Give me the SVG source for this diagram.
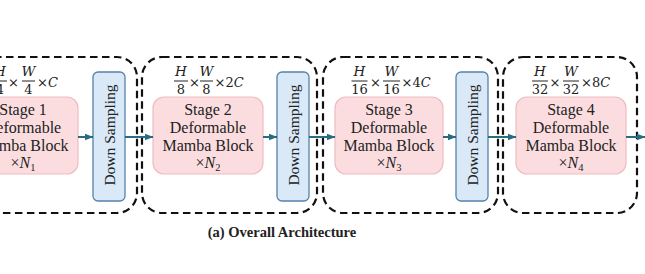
<svg xmlns="http://www.w3.org/2000/svg" width="645" height="274" viewBox="0 0 645 274">
<defs>
<style>
.dash{fill:none;stroke:#111;stroke-width:2.2;stroke-dasharray:7.5 4.5}
.stage{fill:#fbdde0;stroke:#f0bcc0;stroke-width:1.2}
.ds{fill:#d9e9f7;stroke:#5683ab;stroke-width:1.3}
.t{font-family:"Liberation Serif","Times New Roman",serif;font-size:16px;fill:#222;text-anchor:middle}
.d{font-family:"Liberation Serif","Times New Roman",serif;font-size:15.5px;fill:#222;text-anchor:middle}
.m{font-family:"DejaVu Serif","Liberation Serif",serif;font-size:13px;fill:#222}
.mi{font-style:italic;font-size:13.5px}
.c{text-anchor:middle}
.bar{stroke:#222;stroke-width:1}
.arr{stroke:#2a6b80;stroke-width:2;fill:none;marker-end:url(#ah)}
.cap{font-family:"Liberation Serif","Times New Roman",serif;font-size:14.5px;font-weight:bold;fill:#222;text-anchor:middle}
</style>
<marker id="ah" markerUnits="userSpaceOnUse" markerWidth="9" markerHeight="9" viewBox="0 0 9 9" refX="8.5" refY="4.5" orient="auto">
<path d="M0,1 L9,4.5 L0,8 Z" fill="#2a6b80"/>
</marker>
</defs>
<rect width="645" height="274" fill="#fff"/>

<g id="group1">
<rect class="dash" x="-38" y="57" width="175" height="156" rx="20"/>
</g>
<g id="group2">
<rect class="dash" x="142" y="57" width="175" height="156" rx="20"/>
</g>
<g id="group3">
<rect class="dash" x="323" y="57" width="175" height="156" rx="20"/>
</g>
<g id="group4">
<rect class="dash" x="503" y="57" width="134" height="156" rx="20"/>
</g>

<g id="stage1">
<rect class="stage" x="-32" y="97" width="110" height="77" rx="11"/>
<text class="t" x="23" y="115">Stage 1</text>
<text class="t" x="23" y="133">Deformable</text>
<text class="t" x="23" y="150.5">Mamba Block</text>
<text class="t" x="23" y="168">×<tspan font-style="italic">N</tspan><tspan font-size="10.5" dy="3">1</tspan></text>
</g>
<g id="dim1" class="m">
<text class="mi c" x="0" y="75.5">H</text>
<line class="bar" x1="-7" y1="81" x2="7" y2="81"/>
<text class="c" x="0" y="94">4</text>
<text class="c" x="13.5" y="87">×</text>
<text class="mi c" x="28.5" y="75.5">W</text>
<line class="bar" x1="22" y1="81" x2="35" y2="81"/>
<text class="c" x="28.5" y="94">4</text>
<text x="37" y="87">×<tspan font-style="italic">C</tspan></text>
</g>

<g id="stage2">
<rect class="stage" x="153" y="97" width="110" height="77" rx="11"/>
<text class="t" x="208" y="115">Stage 2</text>
<text class="t" x="208" y="133">Deformable</text>
<text class="t" x="208" y="150.5">Mamba Block</text>
<text class="t" x="208" y="168">×<tspan font-style="italic">N</tspan><tspan font-size="10.5" dy="3">2</tspan></text>
</g>
<g id="dim2" class="m">
<text class="mi c" x="181" y="75.5">H</text>
<line class="bar" x1="174" y1="81" x2="188" y2="81"/>
<text class="c" x="181" y="94">8</text>
<text class="c" x="194.5" y="87">×</text>
<text class="mi c" x="206.5" y="75.5">W</text>
<line class="bar" x1="200" y1="81" x2="213" y2="81"/>
<text class="c" x="206.5" y="94">8</text>
<text x="214.5" y="87">×2<tspan font-style="italic">C</tspan></text>
</g>

<g id="stage3">
<rect class="stage" x="335" y="97" width="108" height="77" rx="11"/>
<text class="t" x="389" y="115">Stage 3</text>
<text class="t" x="389" y="133">Deformable</text>
<text class="t" x="389" y="150.5">Mamba Block</text>
<text class="t" x="389" y="168">×<tspan font-style="italic">N</tspan><tspan font-size="10.5" dy="3">3</tspan></text>
</g>
<g id="dim3" class="m">
<text class="mi c" x="359.5" y="75.5">H</text>
<line class="bar" x1="351.5" y1="81" x2="367.5" y2="81"/>
<text class="c" x="359.5" y="94">16</text>
<text class="c" x="375.5" y="87">×</text>
<text class="mi c" x="391.5" y="75.5">W</text>
<line class="bar" x1="383" y1="81" x2="400" y2="81"/>
<text class="c" x="391.5" y="94">16</text>
<text x="401.5" y="87">×4<tspan font-style="italic">C</tspan></text>
</g>

<g id="stage4">
<rect class="stage" x="516" y="97" width="110" height="77" rx="11"/>
<text class="t" x="571" y="115">Stage 4</text>
<text class="t" x="571" y="133">Deformable</text>
<text class="t" x="571" y="150.5">Mamba Block</text>
<text class="t" x="571" y="168">×<tspan font-style="italic">N</tspan><tspan font-size="10.5" dy="3">4</tspan></text>
</g>
<g id="dim4" class="m">
<text class="mi c" x="540" y="75.5">H</text>
<line class="bar" x1="532" y1="81" x2="548" y2="81"/>
<text class="c" x="540" y="94">32</text>
<text class="c" x="555" y="87">×</text>
<text class="mi c" x="571" y="75.5">W</text>
<line class="bar" x1="563" y1="81" x2="579" y2="81"/>
<text class="c" x="571" y="94">32</text>
<text x="581" y="87">×8<tspan font-style="italic">C</tspan></text>
</g>

<g id="ds1">
<rect class="ds" x="93" y="72" width="32" height="129" rx="5"/>
<text class="d" transform="translate(114.5,135) rotate(-90)">Down Sampling</text>
</g>
<g id="ds2">
<rect class="ds" x="277" y="72" width="32" height="129" rx="5"/>
<text class="d" transform="translate(298.5,135) rotate(-90)">Down Sampling</text>
</g>
<g id="ds3">
<rect class="ds" x="456" y="72" width="32" height="129" rx="5"/>
<text class="d" transform="translate(477.5,135) rotate(-90)">Down Sampling</text>
</g>

<g id="connectors">
<line class="arr" x1="78" y1="137" x2="93" y2="137"/>
<line class="arr" x1="125" y1="137" x2="153" y2="137"/>
<line class="arr" x1="263" y1="137" x2="277" y2="137"/>
<line class="arr" x1="309" y1="137" x2="335" y2="137"/>
<line class="arr" x1="443" y1="137" x2="456" y2="137"/>
<line class="arr" x1="488" y1="137" x2="516" y2="137"/>
<line class="arr" x1="626" y1="137" x2="645" y2="137"/>
</g>

<text class="cap" x="282" y="236.5">(a) Overall Architecture</text>
</svg>
